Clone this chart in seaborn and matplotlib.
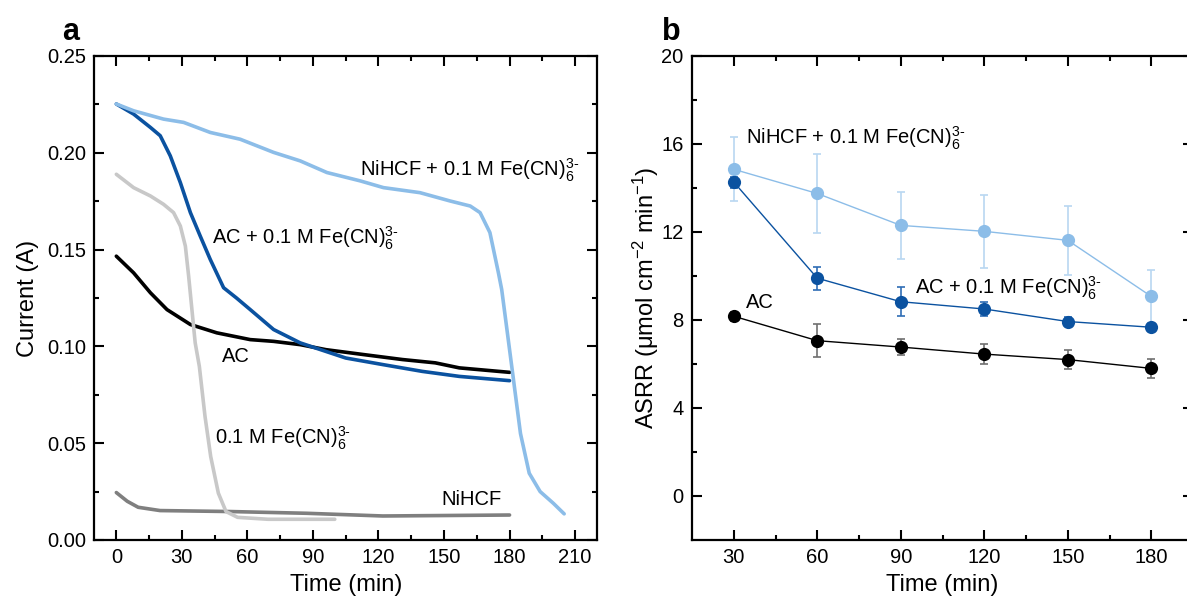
import matplotlib
matplotlib.use("Agg")
import matplotlib.pyplot as plt
from matplotlib.ticker import MultipleLocator, FixedLocator, FormatStrFormatter
import seaborn as sns
import pandas as pd

# ---------------- data: panel a (current vs time) ----------------
nihcf_fe_t = [0, 7.9, 21.6, 30.8, 43, 56.7, 72, 84.2, 96.4, 111.6, 122.3, 139, 152.8, 162, 166.5, 171,
              174.9, 176.4, 179, 182, 185, 189, 194, 200, 205]
nihcf_fe_i = [0.2252, 0.2217, 0.2174, 0.2157, 0.2105, 0.207, 0.2002, 0.1958, 0.1898, 0.1855, 0.182, 0.1794,
              0.1751, 0.1725, 0.1691, 0.1588, 0.138, 0.1294, 0.107, 0.081, 0.055, 0.0345, 0.025, 0.019, 0.0135]

ac_fe_t = [0, 7.9, 15.6, 20.1, 24.7, 29.3, 33.9, 38.4, 43, 49.1, 55, 61.3, 72, 84.2, 105, 122, 140, 157, 180]
ac_fe_i = [0.2252, 0.22, 0.2131, 0.2088, 0.1984, 0.1846, 0.1691, 0.157, 0.1449, 0.1303, 0.125, 0.119,
           0.1087, 0.1018, 0.094, 0.0906, 0.0871, 0.0845, 0.0823]

ac_t = [0, 7.9, 15.6, 23.2, 33.9, 46, 61.3, 72, 84.2, 96, 113, 131, 146, 157, 180]
ac_i = [0.1466, 0.138, 0.1277, 0.119, 0.1113, 0.107, 0.1035, 0.1026, 0.1009, 0.0983, 0.0958, 0.0932,
        0.0915, 0.0889, 0.0866]

fe_t = [0, 7.9, 15.6, 21.6, 26.2, 29.3, 31.6, 33.1, 34.6, 36.1, 38, 40.6, 43.2, 46.7, 50.2, 55.5, 69.5, 100]
fe_i = [0.1889, 0.182, 0.1777, 0.1734, 0.1691, 0.1622, 0.1518, 0.1363, 0.119, 0.1018, 0.0897, 0.0638,
        0.0431, 0.0242, 0.0147, 0.0117, 0.0107, 0.0107]

nihcf_t = [0, 5, 10, 20, 52, 87, 122, 180]
nihcf_i = [0.0245, 0.020, 0.0169, 0.0152, 0.0147, 0.0138, 0.0124, 0.0129]

# ---------------- data: panel b (ASRR vs time) ----------------
b_time = [30, 60, 90, 120, 150, 180]
asrr_nihcf_fe = [14.85, 13.75, 12.3, 12.03, 11.62, 9.07]
err_nihcf_fe = [1.45, 1.78, 1.53, 1.67, 1.57, 1.2]
asrr_ac_fe = [14.27, 9.9, 8.83, 8.5, 7.93, 7.67]
err_ac_fe = [0.25, 0.52, 0.65, 0.3, 0.2, 0.15]
asrr_ac = [8.17, 7.06, 6.77, 6.45, 6.2, 5.8]
err_ac = [0.2, 0.76, 0.35, 0.45, 0.44, 0.44]

# ---------------- style ----------------
sns.set_theme(style="ticks")
plt.rcParams["font.family"] = ["Liberation Sans", "DejaVu Sans"]
plt.rcParams["mathtext.fontset"] = "custom"
plt.rcParams["mathtext.rm"] = "Liberation Sans"
plt.rcParams["mathtext.it"] = "Liberation Sans:italic"
plt.rcParams["mathtext.bf"] = "Liberation Sans:bold"
plt.rcParams["axes.linewidth"] = 1.6
for k in ["text.color", "axes.labelcolor", "xtick.color", "ytick.color", "axes.edgecolor"]:
    plt.rcParams[k] = "black"

LIGHT_BLUE = "#8cbde8"
DARK_BLUE = "#0b52a0"
BLACK = "#000000"
LIGHT_GRAY = "#c8c8c8"
DARK_GRAY = "#7f7f7f"
ERR_LIGHT = "#b9d7f1"

TICK_FS = 14.5
LABEL_FS = 17
ANN_FS = 14.5

fig = plt.figure(figsize=(11.87, 6.02), dpi=100)
axa = fig.add_axes([0.0796, 0.1030, 0.4233, 0.804])
axb = fig.add_axes([0.583, 0.1030, 0.4221, 0.804])


def style_axis(ax):
    for s in ax.spines.values():
        s.set_visible(True)
        s.set_color("black")
        s.set_linewidth(1.6)
    ax.tick_params(which="both", direction="in", top=True, right=True, colors="black",
                   labelsize=TICK_FS, pad=6)
    ax.tick_params(which="major", length=7, width=1.5)
    ax.tick_params(which="minor", length=3.5, width=1.5)
    ax.set_facecolor("white")


# ---------------- panel a ----------------
curves = [
    (ac_t, ac_i, BLACK),
    (ac_fe_t, ac_fe_i, DARK_BLUE),
    (nihcf_t, nihcf_i, DARK_GRAY),
    (fe_t, fe_i, LIGHT_GRAY),
    (nihcf_fe_t, nihcf_fe_i, LIGHT_BLUE),
]
for t, i, c in curves:
    df = pd.DataFrame({"t": t, "i": i})
    sns.lineplot(data=df, x="t", y="i", ax=axa, color=c, linewidth=2.6, sort=False,
                 estimator=None, solid_capstyle="round", solid_joinstyle="round")

axa.set_xlim(-10, 220)
axa.set_ylim(0, 0.25)
axa.xaxis.set_major_locator(MultipleLocator(30))
axa.xaxis.set_minor_locator(MultipleLocator(15))
axa.yaxis.set_major_locator(MultipleLocator(0.05))
axa.yaxis.set_minor_locator(MultipleLocator(0.025))
axa.yaxis.set_major_formatter(FormatStrFormatter("%.2f"))
style_axis(axa)
axa.set_xlabel("Time (min)", fontsize=LABEL_FS)
axa.set_ylabel("Current (A)", fontsize=LABEL_FS)
axa.xaxis.set_label_coords(0.5, -0.070)
axa.yaxis.set_label_coords(-0.110, 0.5)

FE = "Fe(CN)$_{6}^{3\u2010}$"
axa.text(111.6, 0.1880, "NiHCF + 0.1 M " + FE, fontsize=ANN_FS, va="baseline", ha="left")
axa.text(43.6, 0.1527, "AC + 0.1 M " + FE, fontsize=ANN_FS, va="baseline", ha="left")
axa.text(48.5, 0.0921, "AC", fontsize=ANN_FS, va="baseline", ha="left")
axa.text(45.3, 0.0492, "0.1 M " + FE, fontsize=ANN_FS, va="baseline", ha="left")
axa.text(149, 0.0181, "NiHCF", fontsize=ANN_FS, va="baseline", ha="left")

# ---------------- panel b ----------------
series_b = [
    (asrr_nihcf_fe, err_nihcf_fe, LIGHT_BLUE, ERR_LIGHT),
    (asrr_ac_fe, err_ac_fe, DARK_BLUE, "#2f6db5"),
    (asrr_ac, err_ac, BLACK, "#707070"),
]
z = 2
for vals, errs, c, ec in series_b:
    axb.errorbar(b_time, vals, yerr=errs, fmt="none", ecolor=ec, elinewidth=1.2,
                 capsize=3, capthick=1.2, zorder=z)
    df = pd.DataFrame({"t": b_time, "v": vals})
    sns.lineplot(data=df, x="t", y="v", ax=axb, color=c, linewidth=1.0, marker="o",
                 markersize=9.5, markeredgewidth=0, estimator=None, zorder=z + 1)
    z += 2

axb.set_xlim(15, 195)
axb.set_ylim(-2, 20)
axb.xaxis.set_major_locator(MultipleLocator(30))
axb.xaxis.set_minor_locator(FixedLocator([45, 75, 105, 135, 165]))
axb.yaxis.set_major_locator(FixedLocator([0, 4, 8, 12, 16, 20]))
axb.yaxis.set_minor_locator(FixedLocator([2, 6, 10, 14, 18]))
style_axis(axb)
axb.set_xlabel("Time (min)", fontsize=LABEL_FS)
axb.set_ylabel("ASRR (μmol cm$^{-2}$ min$^{-1}$)", fontsize=LABEL_FS)
axb.xaxis.set_label_coords(0.5, -0.070)
axb.yaxis.set_label_coords(-0.062, 0.5)

axb.text(34.4, 15.99, "NiHCF + 0.1 M " + FE, fontsize=ANN_FS, va="baseline", ha="left")
axb.text(95.0, 9.16, "AC + 0.1 M " + FE, fontsize=ANN_FS, va="baseline", ha="left")
axb.text(34.4, 8.56, "AC", fontsize=ANN_FS, va="baseline", ha="left")

# panel letters
fig.text(62 / 1187, 1 - 40 / 602, "a", fontsize=22, fontweight="bold", va="baseline", ha="left")
fig.text(662 / 1187, 1 - 40 / 602, "b", fontsize=22, fontweight="bold", va="baseline", ha="left")

fig.savefig("out.png", dpi=100, facecolor="white")
